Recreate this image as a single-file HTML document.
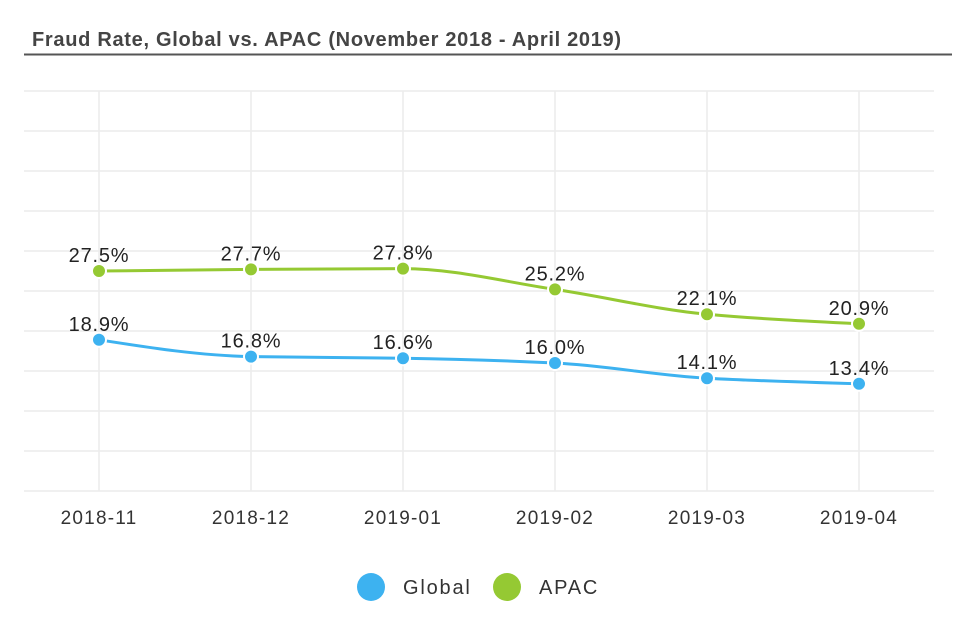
<!DOCTYPE html>
<html><head><meta charset="utf-8"><style>
body{margin:0;width:954px;height:628px;background:#fff;overflow:hidden;font-family:"Liberation Sans",sans-serif}
</style></head><body>
<svg id="c" width="954" height="628">
<text x="32" y="46" font-size="20" font-weight="bold" fill="#444" letter-spacing="0.7">Fraud Rate, Global vs. APAC (November 2018 - April 2019)</text>
<line x1="24" y1="54.5" x2="952" y2="54.5" stroke="#555" stroke-width="2"/>
<g id="grid"></g><g id="series"></g><g id="xaxis"></g>
<g>
<g><circle cx="371" cy="587" r="14" fill="#3db2f0"/><text x="403" y="594" font-size="20" fill="#333" letter-spacing="1.8">Global</text></g>
<g><circle cx="507" cy="587" r="14" fill="#95c933"/><text x="539" y="594" font-size="20" fill="#333" letter-spacing="1.8">APAC</text></g>
</g>
</svg>
<script>
const categories=["2018-11","2018-12","2019-01","2019-02","2019-03","2019-04"];
const globalValues=[18.9,16.8,16.6,16.0,14.1,13.4];
const apacValues=[27.5,27.7,27.8,25.2,22.1,20.9];
const yMax=50, yTickCount=10;
const NS="http://www.w3.org/2000/svg";
const L=24,R=934,T=91,B=491;
const x=i=>99+i*152;
const y=v=>B-(v/yMax)*(B-T);
function mk(tag,attrs,parent){const e=document.createElementNS(NS,tag);for(const k in attrs)e.setAttribute(k,attrs[k]);parent.appendChild(e);return e;}
const grid=document.getElementById('grid');
for(let i=0;i<=yTickCount;i++){const yy=y(yMax*i/yTickCount);
const l=mk('line',{x1:L,x2:R,y1:yy,y2:yy,stroke:'#ececec','stroke-width':1.5},grid);

}
const xa=document.getElementById('xaxis');
categories.forEach((c,i)=>{
const l=mk('line',{x1:x(i),x2:x(i),y1:T,y2:B,stroke:'#ececec','stroke-width':1.5},grid);


const t=mk('text',{x:x(i),y:524,'text-anchor':'middle','font-size':19,fill:'#333','letter-spacing':1.2},xa);t.textContent=c;

});
function monotone(pts){const n=pts.length,d=[],m=[];
for(let i=0;i<n-1;i++)d.push((pts[i+1][1]-pts[i][1])/(pts[i+1][0]-pts[i][0]));
for(let i=0;i<n;i++){if(i==0)m.push(d[0]);else if(i==n-1)m.push(d[n-2]);else m.push(d[i-1]*d[i]<=0?0:2/(1/d[i-1]+1/d[i]));}
m[0]=(3*d[0]-m[1])/2;m[n-1]=(3*d[n-2]-m[n-2])/2;
let s=`M${pts[0][0]},${pts[0][1]}`;
for(let i=0;i<n-1;i++){const h=(pts[i+1][0]-pts[i][0])/3;
s+=`C${pts[i][0]+h},${pts[i][1]+m[i]*h} ${pts[i+1][0]-h},${pts[i+1][1]-m[i+1]*h} ${pts[i+1][0]},${pts[i+1][1]}`;}
return s;}
const sg=document.getElementById('series');
function draw(vals,color,name){
const pts=vals.map((v,i)=>[x(i),y(v)]);
const p=mk('path',{d:monotone(pts),fill:'none',stroke:color,'stroke-width':3},sg);


vals.forEach((v,i)=>{
const c=mk('circle',{cx:x(i),cy:y(v),r:7,fill:color,stroke:'#fff','stroke-width':2},sg);


const t=mk('text',{x:x(i),y:y(v)-9,'text-anchor':'middle','font-size':20,fill:'#222','letter-spacing':0.8},sg);t.textContent=v.toFixed(1)+'%';

});}
draw(apacValues,'#95c933','apac');
draw(globalValues,'#3db2f0','global');
</script>
</body></html>
